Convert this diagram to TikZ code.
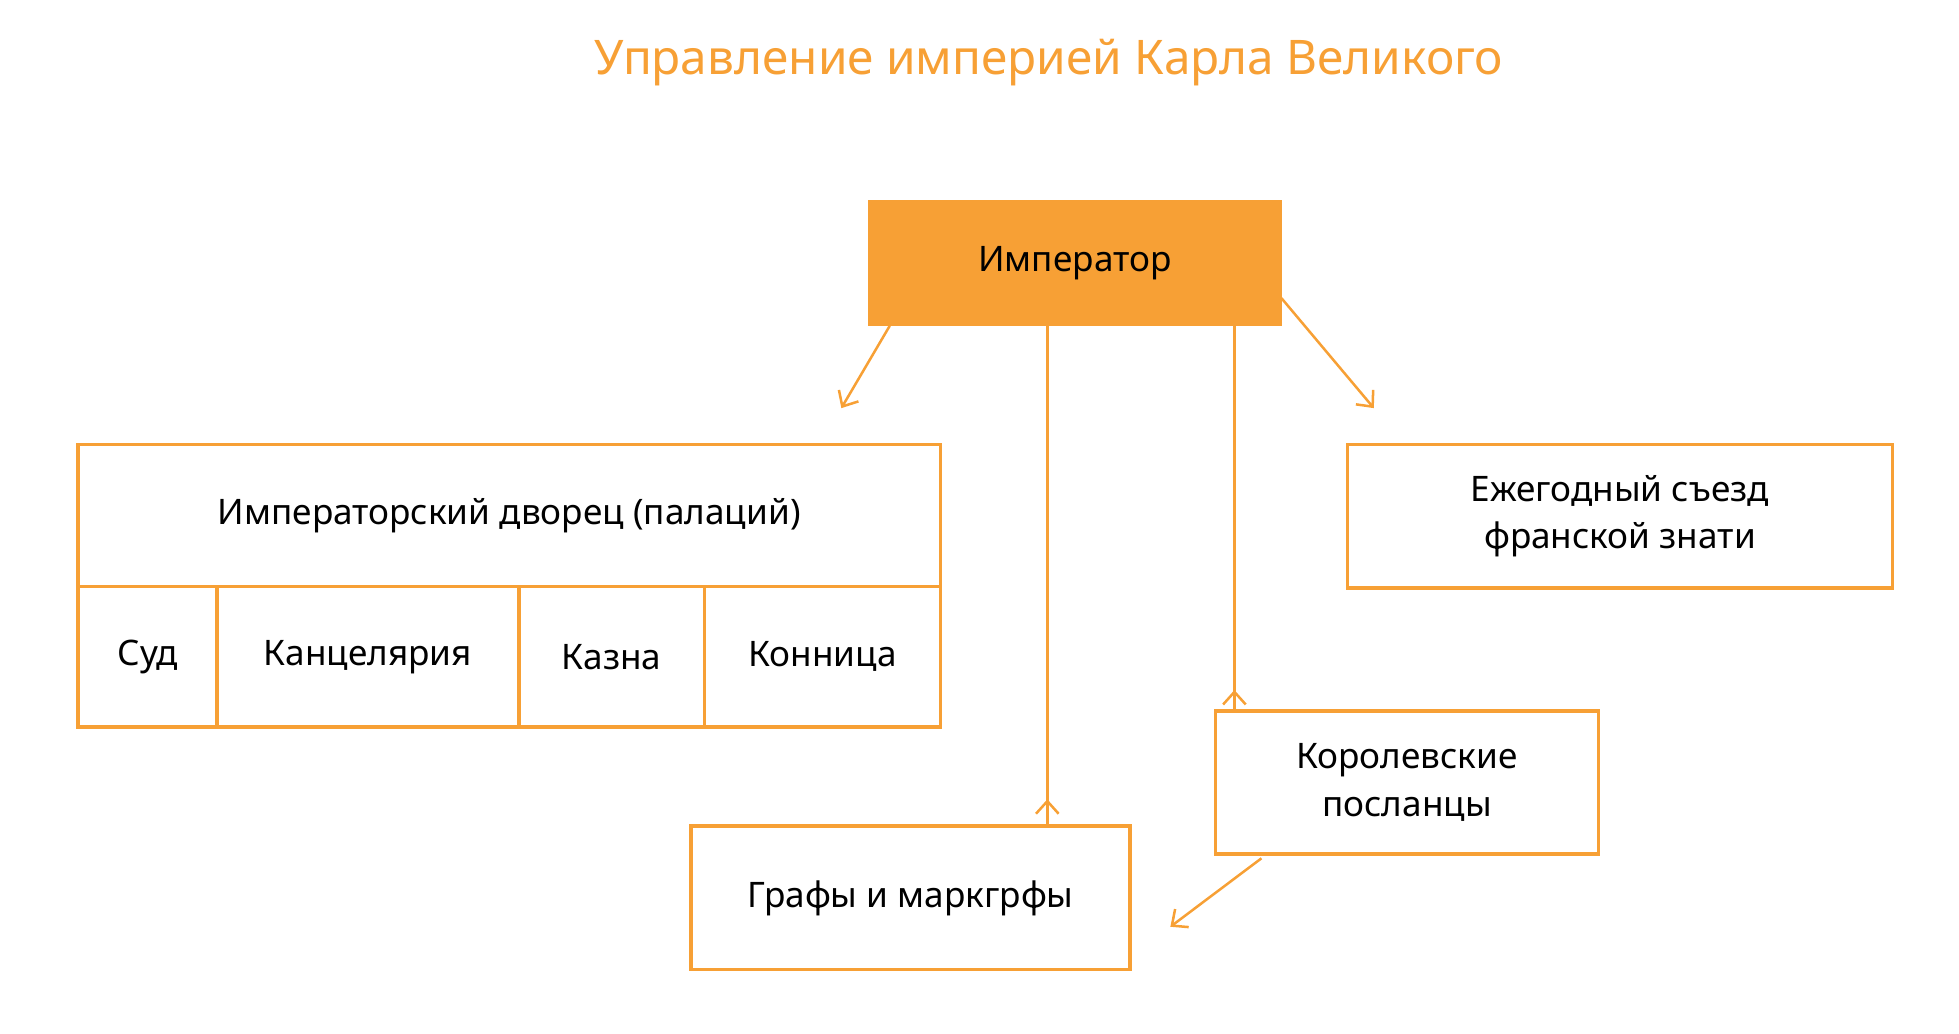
\documentclass[tikz,border=0pt]{standalone}
\usepackage{fontspec}
\setmainfont{Noto Sans}
\usetikzlibrary{arrows.meta}
\definecolor{imporange}{RGB}{247,160,53}
\begin{document}
\begin{tikzpicture}[x=0.5pt,y=0.5pt,yscale=-1,
  box/.style={draw=imporange,line width=1.5pt,inner sep=0pt,align=center,font=\fontsize{14}{19}\selectfont},
  conn/.style={draw=imporange,line width=1pt,-{Straight Barb[length=5pt,width=9pt]}}]
  \useasboundingbox (0,0) rectangle (1560,823);

  % Title
  \node (title) at (835,50) {\fontsize{19}{23}\selectfont\bfseries\color{imporange}Управление империей Карла Великого};

  % Emperor
  \node[box,fill=imporange,minimum width=163pt,minimum height=48.5pt,font=\fontsize{14}{19}\selectfont\bfseries] (emp) at (856,209.5) {Император};

  % Palace
  \node[box,minimum width=343.5pt,minimum height=56.5pt] (pal) at (405.5,410.5) {Императорский дворец (палаций)};
  \node[box,minimum width=55.5pt,minimum height=56pt] (sud) at (117.5,523) {Суд};
  \node[box,minimum width=120pt,minimum height=56pt] (kanc) at (293,523) {Канцелярия};
  \node[box,minimum width=74pt,minimum height=56pt] (kazna) at (487,523) {Казна};
  \node[box,minimum width=94pt,minimum height=56pt] (konn) at (655,523) {Конница};

  % Other bodies
  \node[box,minimum width=217pt,minimum height=57pt] (sezd) at (1290,411) {Ежегодный съезд\\франской знати};
  \node[box,minimum width=152.5pt,minimum height=57pt] (posl) at (1120.5,623) {Королевские\\посланцы};
  \node[box,minimum width=175pt,minimum height=57pt] (graf) at (725,715) {Графы и маркгрфы};

  % Connectors
  \coordinate (palend) at (670,325);
  \coordinate (sezdend) at (1094,325);
  \coordinate (grafend) at (932,738);
  \draw[conn] (emp.south west) ++(17,0) -- (palend);
  \draw[conn] (emp.south) ++(-22,0) -- (graf.north -| 834,0) ++(0,-20);
  \draw[conn] (emp.south -| 983,0) -- (posl.north -| 983,0) ++(0,-15);
  \draw[conn] (emp.east) ++(0,28) -- (sezdend);
  \draw[conn] (posl.south west) ++(38,2) -- (grafend);
\end{tikzpicture}
\end{document}
